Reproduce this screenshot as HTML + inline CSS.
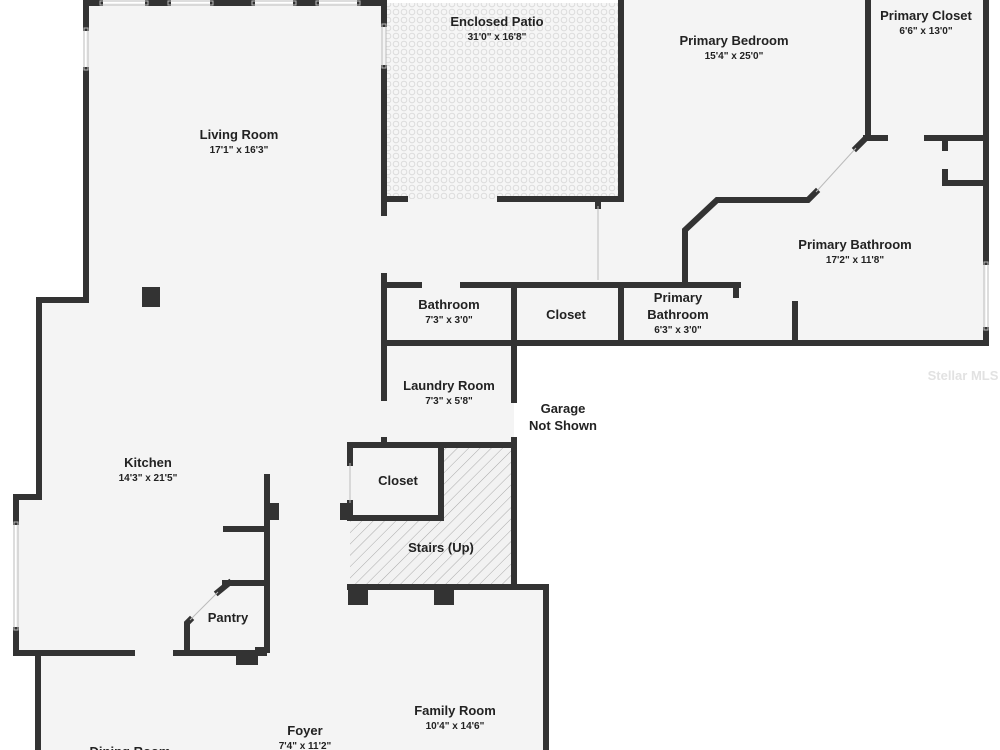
<!DOCTYPE html>
<html><head><meta charset="utf-8"><style>
html,body{margin:0;padding:0;background:#fff;}
svg{display:block;}
text{font-family:"Liberation Sans","DejaVu Sans",sans-serif;fill:#222;text-anchor:middle;}
.n{font-size:13px;font-weight:bold;}
.d{font-size:10px;font-weight:bold;}
</style></head><body>
<svg width="1000" height="750" viewBox="0 0 1000 750" xmlns="http://www.w3.org/2000/svg">
<defs>
<pattern id="tile" width="8" height="8" patternUnits="userSpaceOnUse">
<rect width="8" height="8" fill="#f6f6f6"/><circle cx="4" cy="4" r="2.8" fill="none" stroke="#dcdcdc" stroke-width="1"/>
</pattern>
<pattern id="hatch" width="8" height="8" patternUnits="userSpaceOnUse" patternTransform="rotate(45)">
<rect width="8" height="8" fill="#f2f2f2"/><line x1="0" y1="0" x2="0" y2="8" stroke="#aaa" stroke-width="1"/>
</pattern>
</defs>
<!-- floor fill -->
<polygon fill="#f4f4f4" points="86,3 621,3 621,0 986,0 986,343 514,343 514,587 546,587 546,750 38,750 38,653 16,653 16,497 39,497 39,300 86,300"/>
<rect x="386" y="3" width="235" height="196" fill="url(#tile)"/>
<rect x="350" y="445" width="164" height="142" fill="url(#hatch)"/>
<rect x="350" y="445" width="91" height="73" fill="#f4f4f4"/>
<g fill="none" stroke="#333" stroke-width="6" stroke-linecap="square">
<!-- living -->
<polyline points="86,28 86,3 100,3"/>
<line x1="148" y1="3" x2="168" y2="3"/><line x1="213" y1="3" x2="252" y2="3"/><line x1="296" y1="3" x2="316" y2="3"/><line x1="360" y1="3" x2="384" y2="3"/>
<polyline points="86,70 86,300 39,300 39,497 16,497 16,522"/>
<polyline points="16,630 16,653 132,653"/>
<line x1="176" y1="653" x2="264" y2="653"/>
<line x1="38" y1="653" x2="38" y2="750"/>
<polyline points="384,3 384,24"/><polyline points="384,68 384,213"/>
<line x1="384" y1="199" x2="405" y2="199"/><polyline points="500,199 621,199 621,0"/>
<!-- kitchen / pantry -->
<line x1="267" y1="477" x2="267" y2="650"/>
<line x1="226" y1="529" x2="267" y2="529"/>
<polyline points="190,620 187,623 187,653"/>
<polyline points="225,583 267,583"/>
<line x1="229" y1="583" x2="218" y2="592"/>
<line x1="267" y1="650" x2="258" y2="650"/>
<!-- bath row -->
<polyline points="384,276 384,398"/><line x1="384" y1="440" x2="384" y2="443"/>
<line x1="384" y1="285" x2="419" y2="285"/><line x1="463" y1="285" x2="738" y2="285"/>
<line x1="384" y1="343" x2="986" y2="343"/>
<line x1="514" y1="285" x2="514" y2="400"/>
<line x1="621" y1="285" x2="621" y2="343"/>
<line x1="736" y1="285" x2="736" y2="295"/>
<line x1="598" y1="199" x2="598" y2="206"/>
<line x1="795" y1="304" x2="795" y2="343"/>
<!-- primary -->
<polyline points="685,285 685,230 717,200 808,200 816,192"/>
<polyline points="856,148 866,138 868,138 868,0"/>
<line x1="866" y1="138" x2="885" y2="138"/><line x1="927" y1="138" x2="986" y2="138"/>
<line x1="945" y1="138" x2="945" y2="148"/><polyline points="945,172 945,183 986,183"/>
<line x1="986" y1="0" x2="986" y2="262"/><line x1="986" y1="330" x2="986" y2="343"/>
<!-- laundry/closet/stairs -->
<polyline points="350,463 350,445 514,445"/>
<line x1="350" y1="503" x2="350" y2="518"/>
<polyline points="441,445 441,518 350,518"/>
<polyline points="514,440 514,587 546,587 546,750"/>
<line x1="350" y1="587" x2="514" y2="587"/>
</g>
<g fill="#333">
<rect x="142" y="287" width="18" height="20"/>
<rect x="270" y="503" width="9" height="17"/>
<rect x="340" y="503" width="12" height="17"/>
<rect x="348" y="587" width="20" height="18"/>
<rect x="434" y="587" width="20" height="18"/>
<rect x="236" y="653" width="22" height="12"/>
</g>
<g fill="none" stroke="#bbb" stroke-width="1">
<rect x="100" y="1" width="48" height="4"/><rect x="168" y="1" width="45" height="4"/><rect x="252" y="1" width="44" height="4"/><rect x="316" y="1" width="44" height="4"/>
<rect x="84" y="28" width="4" height="42"/><rect x="382" y="24" width="4" height="44"/>
<rect x="14" y="522" width="4" height="108"/><rect x="984" y="262" width="4" height="68"/>
<line x1="598" y1="206" x2="598" y2="280"/><line x1="350" y1="463" x2="350" y2="503"/>
<line x1="816" y1="192" x2="856" y2="148"/><line x1="190" y1="620" x2="218" y2="592"/>
</g>
<text class="n" x="239" y="139">Living Room</text><text class="d" x="239" y="153">17'1" x 16'3"</text>
<text class="n" x="497" y="26">Enclosed Patio</text><text class="d" x="497" y="40">31'0" x 16'8"</text>
<text class="n" x="734" y="45">Primary Bedroom</text><text class="d" x="734" y="59">15'4" x 25'0"</text>
<text class="n" x="926" y="20">Primary Closet</text><text class="d" x="926" y="34">6'6" x 13'0"</text>
<text class="n" x="855" y="249">Primary Bathroom</text><text class="d" x="855" y="263">17'2" x 11'8"</text>
<text class="n" x="449" y="309">Bathroom</text><text class="d" x="449" y="323">7'3" x 3'0"</text>
<text class="n" x="566" y="319">Closet</text>
<text class="n" x="678" y="302">Primary</text><text class="n" x="678" y="319">Bathroom</text><text class="d" x="678" y="333">6'3" x 3'0"</text>
<text class="n" x="449" y="390">Laundry Room</text><text class="d" x="449" y="404">7'3" x 5'8"</text>
<text class="n" x="563" y="413">Garage</text><text class="n" x="563" y="430">Not Shown</text>
<text class="n" x="148" y="467">Kitchen</text><text class="d" x="148" y="481">14'3" x 21'5"</text>
<text class="n" x="398" y="485">Closet</text>
<text class="n" x="441" y="552">Stairs (Up)</text>
<text class="n" x="228" y="622">Pantry</text>
<text class="n" x="455" y="715">Family Room</text><text class="d" x="455" y="729">10'4" x 14'6"</text>
<text class="n" x="305" y="735">Foyer</text><text class="d" x="305" y="749">7'4" x 11'2"</text>
<text class="n" x="130" y="756">Dining Room</text>
<text x="963" y="380" style="font-size:13px;font-weight:bold;fill:#e2e2e2">Stellar MLS</text>
</svg>
</body></html>
